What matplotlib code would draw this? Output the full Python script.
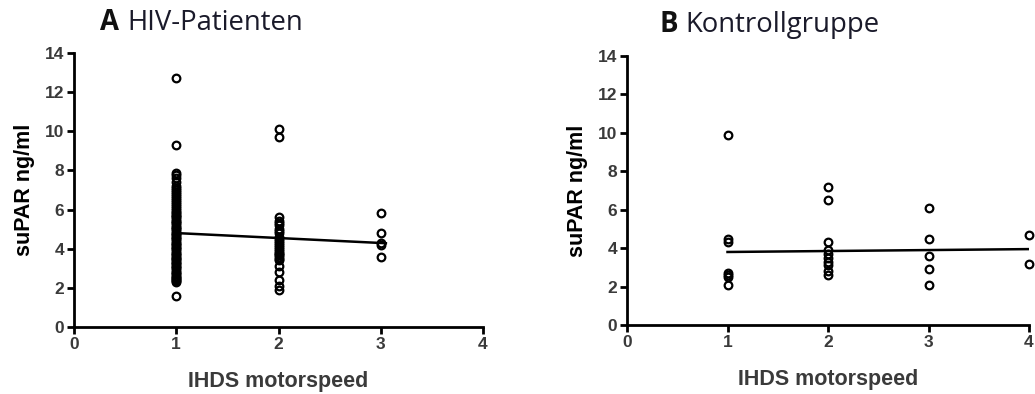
import matplotlib
matplotlib.use('Agg')
import matplotlib.pyplot as plt
from matplotlib.font_manager import FontProperties

# HIV patients: x = IHDS motorspeed group, y = suPAR ng/ml
hiv_y1 = [1.6, 2.3, 2.35, 2.4, 2.45, 2.5, 2.55, 2.6, 2.7, 2.75, 2.8, 2.9, 3.0,
          3.05, 3.1, 3.2, 3.25, 3.3, 3.4, 3.5, 3.55, 3.6, 3.7, 3.75, 3.8, 3.9,
          4.0, 4.05, 4.1, 4.2, 4.25, 4.3, 4.4, 4.5, 4.55, 4.6, 4.7, 4.75, 4.8,
          4.9, 5.0, 5.05, 5.1, 5.2, 5.3, 5.35, 5.4, 5.5, 5.6, 5.65, 5.7, 5.8,
          5.9, 6.0, 6.1, 6.2, 6.3, 6.4, 6.5, 6.6, 6.7, 6.8, 6.9, 7.0, 7.1, 7.2,
          7.4, 7.6, 7.75, 7.85, 9.3, 12.7]
hiv_x1 = [1] * len(hiv_y1)
hiv_y2 = [1.9, 2.1, 2.4, 2.8, 3.1, 3.4, 3.5, 3.6, 3.7, 3.75, 3.8, 3.9, 4.0,
          4.1, 4.2, 4.3, 4.4, 4.5, 4.6, 4.8, 4.9, 5.0, 5.2, 5.3, 5.4, 5.6,
          9.7, 10.1]
hiv_x2 = [2] * len(hiv_y2)
hiv_y3 = [3.6, 4.2, 4.3, 4.8, 5.8]
hiv_x3 = [3] * len(hiv_y3)
hiv_fit_x = [1, 3.05]
hiv_fit_y = [4.8, 4.28]

# control group
ctl_x = [1] * 7 + [2] * 10 + [3] * 5 + [4] * 2
ctl_y = [9.9, 4.5, 4.3, 2.7, 2.6, 2.5, 2.1,
         7.2, 6.5, 4.3, 3.9, 3.7, 3.5, 3.3, 3.1, 2.8, 2.6,
         6.1, 4.5, 3.6, 2.9, 2.1,
         4.7, 3.2]
ctl_fit_x = [1, 4]
ctl_fit_y = [3.8, 3.95]

xticks = [0, 1, 2, 3, 4]
yticks = [0, 2, 4, 6, 8, 10, 12, 14]

fig = plt.figure(figsize=(10.35, 3.94), dpi=100)
ax1 = fig.add_axes([74 / 1035, 67 / 394, 409 / 1035, 274 / 394])
ax2 = fig.add_axes([627 / 1035, 69 / 394, 402 / 1035, 269 / 394])

tick_fp = FontProperties(family='Liberation Sans', weight='bold', size=12.5)
label_font = dict(family='Liberation Sans', weight='bold', size=15.5)

for ax in (ax1, ax2):
    ax.set_xlim(0, 4)
    ax.set_ylim(0, 14)
    ax.set_xticks(xticks)
    ax.set_yticks(yticks)
    for s in ('top', 'right'):
        ax.spines[s].set_visible(False)
    for s in ('left', 'bottom'):
        ax.spines[s].set_linewidth(2)
    ax.tick_params(width=2, length=5, colors='black', labelcolor='#3a3a3a',
                   pad=2)
    for lbl in ax.get_xticklabels() + ax.get_yticklabels():
        lbl.set_fontproperties(tick_fp)
    ax.set_xlabel('IHDS motorspeed', color='#3a3a3a', labelpad=14, **label_font)
    ax.set_ylabel('suPAR ng/ml', color='black', labelpad=7, **label_font)

mk = dict(marker='o', linestyle='none', markersize=5.5, markerfacecolor='none',
          markeredgecolor='black', markeredgewidth=1.6, clip_on=False, zorder=3)

ax1.plot(hiv_x1, hiv_y1, **mk)
ax1.plot(hiv_x2, hiv_y2, **mk)
ax1.plot(hiv_x3, hiv_y3, **mk)
ax1.plot(hiv_fit_x, hiv_fit_y, color='black', linewidth=1.8, zorder=4)

ax2.plot(ctl_x, ctl_y, **mk)
ax2.plot(ctl_fit_x, ctl_fit_y, color='black', linewidth=1.8, zorder=4)

# panel titles
title_font = 'Open Sans'
fig.text(100 / 1035, 1 - 23 / 394, 'A', family=title_font, weight='bold',
         size=19.8, va='center', color='#111111')
fig.text(127 / 1035, 1 - 23 / 394, 'HIV-Patienten', family=title_font,
         size=19.8, va='center', color='#1a1a2a')
fig.text(659 / 1035, 1 - 25 / 394, 'B', family=title_font, weight='bold',
         size=19.8, va='center', color='#111111')
fig.text(685 / 1035, 1 - 25 / 394, 'Kontrollgruppe', family=title_font,
         size=19.8, va='center', color='#1a1a2a')

fig.savefig('out.png', dpi=100)
